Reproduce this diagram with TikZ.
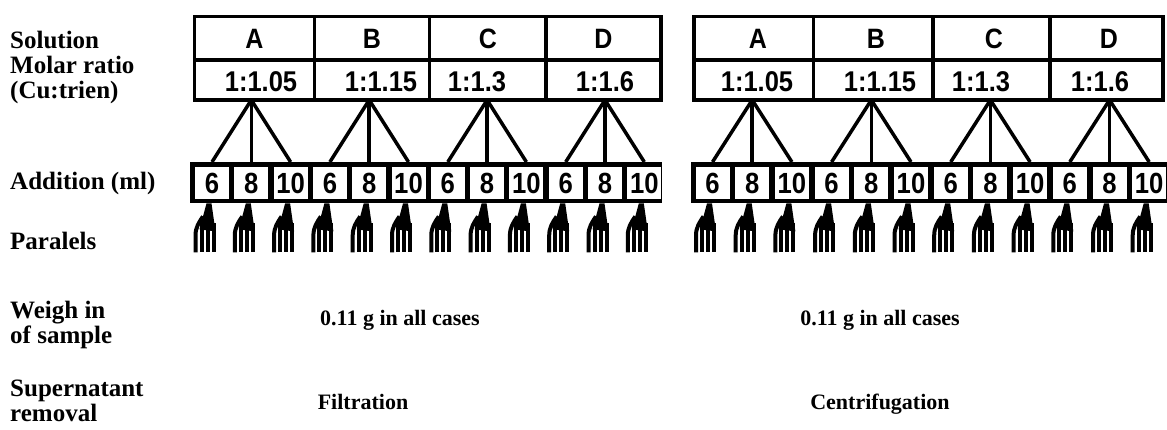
\documentclass[tikz,border=0pt]{standalone}
\usepackage{fontspec}
\usepackage{graphicx}
\setmainfont{Liberation Serif}
\newfontfamily\tabfont{Liberation Sans}
\usetikzlibrary{calc}
\newcommand{\tall}[1]{\scalebox{1}[1.12]{#1}}
\begin{document}
\begin{tikzpicture}[x=1pt,y=-1pt,
  lbl/.style={anchor=base west, inner sep=0pt, font=\fontsize{25}{24}\selectfont\bfseries},
  body/.style={anchor=base, inner sep=0pt, font=\fontsize{22}{22}\selectfont\bfseries},
  tline/.style={line width=3.5pt},
  letter/.style={inner sep=0pt, font=\tabfont\fontsize{25}{25}\selectfont\bfseries},
  ratio/.style={inner sep=0pt, anchor=base, font=\tabfont\fontsize{25.5}{26}\selectfont\bfseries},
  addframe/.style={fill=black, inner sep=0pt, anchor=north west, minimum height=41pt},
  addcell/.style={fill=white, minimum width=34pt, minimum height=32pt, inner sep=0pt, font=\tabfont\fontsize{27}{27}\selectfont\bfseries},
  prong/.style={line width=4pt},
  branch/.style={line width=3.5pt}
]
\useasboundingbox (0,0) rectangle (1167,429);

% row labels
\node[lbl] (l1) at (10,48) {Solution};
\node[lbl] (l2) at (10,73) {Molar ratio};
\node[lbl] (l3) at (10,98) {(Cu:trien)};
\node[lbl] (l4) at (10,189) {Addition (ml)};
\node[lbl] (l5) at (10,249) {Paralels};
\node[lbl] (l6) at (10,318) {Weigh in};
\node[lbl] (l7) at (10,343) {of sample};
\node[lbl] (l8) at (10,396) {Supernatant};
\node[lbl] (l9) at (10,421) {removal};

% tables
\draw[tline] (194.5,16.5) rectangle (661,100);
\draw[tline] (194.5,60) -- (661,60);
\foreach \x in {314.5,429.5,546} \draw[tline] (\x,16.5) -- (\x,100);
\draw[tline] (694,16.5) rectangle (1163,100);
\draw[tline] (694,60) -- (1163,60);
\foreach \x in {813.5,933,1050} \draw[tline] (\x,16.5) -- (\x,100);

% letters
\node[letter] (LA) at (254.5,39) {\tall{A}};
\node[letter] (LB) at (372,39) {\tall{B}};
\node[letter] (LC) at (488,39) {\tall{C}};
\node[letter] (LD) at (603.5,39) {\tall{D}};
\node[letter] (RA) at (758,39) {\tall{A}};
\node[letter] (RB) at (876,39) {\tall{B}};
\node[letter] (RC) at (994,39) {\tall{C}};
\node[letter] (RD) at (1109,39) {\tall{D}};

% ratios
\node[ratio] (Lr1) at (261,91) {\tall{1:1.05}};
\node[ratio] (Lr2) at (381,91) {\tall{1:1.15}};
\node[ratio] (Lr3) at (477,91) {\tall{1:1.3}};
\node[ratio] (Lr4) at (605,91) {\tall{1:1.6}};
\node[ratio] (Rr1) at (757,91) {\tall{1:1.05}};
\node[ratio] (Rr2) at (880,91) {\tall{1:1.15}};
\node[ratio] (Rr3) at (981,91) {\tall{1:1.3}};
\node[ratio] (Rr4) at (1100,91) {\tall{1:1.6}};

% addition frames
\node[addframe, minimum width=472pt] (LF) at (190,162) {};
\node[addframe, minimum width=476pt] (RF) at (691,162) {};

\foreach \i/\t in {1/6,2/8,3/10,4/6,5/8,6/10,7/6,8/8,9/10,10/6,11/8,12/10}{
  \pgfmathsetmacro{\xl}{212+39.3*(\i-1)}
  \pgfmathsetmacro{\xr}{712.5+39.7*(\i-1)}
  \node[addcell] (L\i) at (\xl,183) {\scalebox{0.95}[1.08]{\t}};
  \node[addcell] (R\i) at (\xr,183) {\scalebox{0.95}[1.08]{\t}};
}

% branches
\foreach \s in {L,R}{
  \foreach \g in {0,1,2,3}{
    \pgfmathtruncatemacro{\a}{3*\g+1}
    \pgfmathtruncatemacro{\b}{3*\g+2}
    \pgfmathtruncatemacro{\c}{3*\g+3}
    \coordinate (\s ap\g) at ($(\s\b.center)+(0,-83)$);
    \draw[branch] (\s ap\g) -- (\s\a.north |- \s F.north);
    \draw[branch] (\s ap\g) -- (\s\b.north |- \s F.north);
    \draw[branch] (\s ap\g) -- (\s\c.north |- \s F.north);
  }
}

% paralels forks
\foreach \s in {L,R}{
  \foreach \i in {1,...,12}{
    \begin{scope}[shift={(\s\i.center |- \s F.south)}]
      \fill (-5.5,0) -- (-0.5,0) -- (3.5,28) -- (-12.5,26) -- cycle;
      \draw[prong] (1.5,20) -- (1.5,49);
      \draw[prong] (-4.5,18) -- (-4.5,49);
      \draw[prong] (-10.5,18) -- (-10.5,49);
      \draw[prong] (-9,13) .. controls (-13,19) and (-16.5,24) .. (-16.5,32) -- (-16.5,49);
    \end{scope}
  }
}

% bottom texts
\node[body] (w1) at (400,325) {0.11 g in all cases};
\node[body] (w2) at (880,325) {0.11 g in all cases};
\node[body] (s1) at (363,409) {Filtration};
\node[body] (s2) at (880,409) {Centrifugation};
\end{tikzpicture}
\end{document}
